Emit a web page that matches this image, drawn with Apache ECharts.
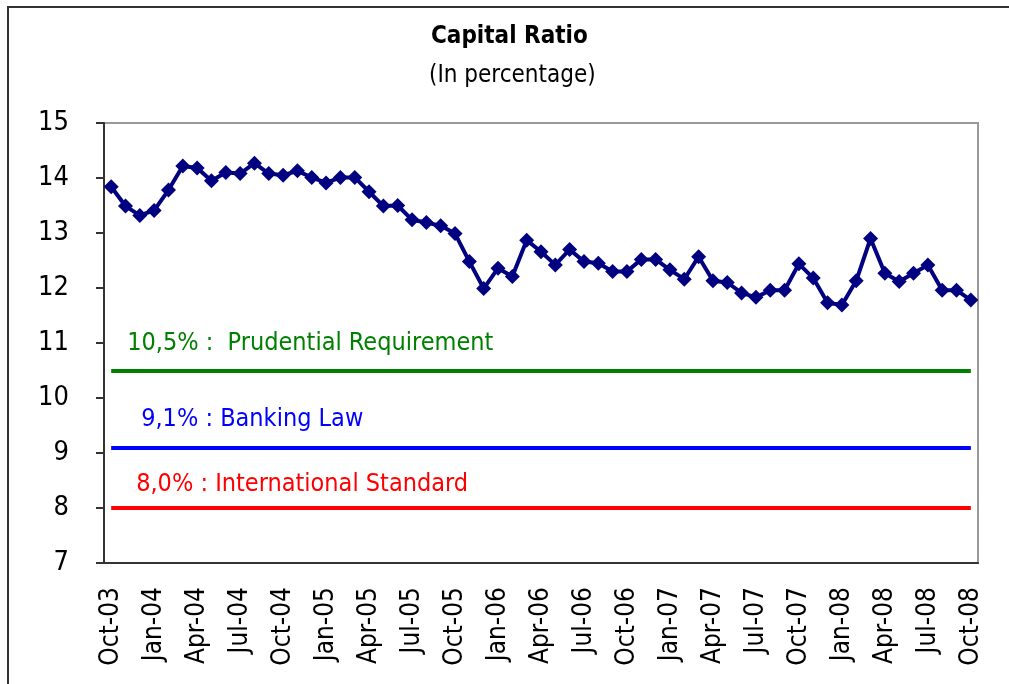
<!DOCTYPE html>
<html>
<head>
<meta charset="utf-8">
<title>Capital Ratio</title>
<script src="https://cdn.jsdelivr.net/npm/echarts@6/dist/echarts.min.js"></script>
<style>
  html, body { margin: 0; padding: 0; background: #fff; }
  #chart { width: 1009px; height: 684px; }
</style>
</head>
<body>
<div id="chart"></div>
<script>
  // monthly points, Oct-03 .. Oct-08
  var months = [
    'Oct-03', 'Nov-03', 'Dec-03',
    'Jan-04', 'Feb-04', 'Mar-04', 'Apr-04', 'May-04', 'Jun-04', 'Jul-04', 'Aug-04', 'Sep-04', 'Oct-04', 'Nov-04', 'Dec-04',
    'Jan-05', 'Feb-05', 'Mar-05', 'Apr-05', 'May-05', 'Jun-05', 'Jul-05', 'Aug-05', 'Sep-05', 'Oct-05', 'Nov-05', 'Dec-05',
    'Jan-06', 'Feb-06', 'Mar-06', 'Apr-06', 'May-06', 'Jun-06', 'Jul-06', 'Aug-06', 'Sep-06', 'Oct-06', 'Nov-06', 'Dec-06',
    'Jan-07', 'Feb-07', 'Mar-07', 'Apr-07', 'May-07', 'Jun-07', 'Jul-07', 'Aug-07', 'Sep-07', 'Oct-07', 'Nov-07', 'Dec-07',
    'Jan-08', 'Feb-08', 'Mar-08', 'Apr-08', 'May-08', 'Jun-08', 'Jul-08', 'Aug-08', 'Sep-08', 'Oct-08'
  ]
  var capitalRatio = [
    13.84, 13.49, 13.32,
    13.41, 13.78, 14.22, 14.18, 13.95, 14.10, 14.08, 14.27, 14.08, 14.05, 14.13, 14.01,
    13.91, 14.01, 14.01, 13.75, 13.49, 13.50, 13.24, 13.19, 13.13, 12.99, 12.48, 11.99,
    12.36, 12.21, 12.87, 12.66, 12.42, 12.70, 12.48, 12.45, 12.30, 12.30, 12.52, 12.52,
    12.33, 12.16, 12.57, 12.13, 12.10, 11.91, 11.83, 11.96, 11.96, 12.44, 12.18, 11.73,
    11.69, 12.13, 12.90, 12.27, 12.12, 12.27, 12.42, 11.96, 11.96, 11.78
  ]
  var limitValues = [10.5, 9.1, 8.0]
  var limitLabels = ['10,5% :  Prudential Requirement', '9,1% : Banking Law', '8,0% : International Standard']
  var limitColors = ['#008000', '#0000ff', '#ff0000']
  var yTicks = [7, 8, 9, 10, 11, 12, 13, 14, 15]

  var font = "'Liberation Sans Narrow', 'Arial Narrow', 'DejaVu Sans Condensed', sans-serif"
  var first = months[0]
  var last = months[months.length - 1]
  // label offsets [right, up] from the start of each limit line
  var labelDist = [[16, 15], [30, 16], [25, 11]]

  var limitLines = limitValues.map(function (v, i) {
    return [
      {
        coord: [first, v],
        lineStyle: { color: limitColors[i], width: 4, type: 'solid' },
        label: {
          show: true,
          formatter: limitLabels[i],
          position: 'insideStartTop',
          distance: labelDist[i],
          color: limitColors[i],
          fontFamily: font,
          fontSize: 25
        }
      },
      { coord: [last, v] }
    ]
  })

  var chart = echarts.init(document.getElementById('chart'))
  chart.setOption({
    animation: false,
    textStyle: { fontFamily: font },
    title: [
      {
        text: 'Capital Ratio',
        left: 431,
        top: 25,
        padding: 0,
        textStyle: { fontFamily: font, fontSize: 24, fontWeight: 'bold', color: '#000' }
      },
      {
        text: '(In percentage)',
        left: 429,
        top: 64,
        padding: 0,
        textStyle: { fontFamily: font, fontSize: 24, fontWeight: 'normal', color: '#000' }
      }
    ],
    graphic: [
      {
        type: 'rect',
        shape: { x: 8, y: 7, width: 1100, height: 700 },
        style: { fill: 'none', stroke: '#333', lineWidth: 2 },
        silent: true
      }
    ],
    grid: {
      left: 104,
      top: 123,
      right: 31,
      bottom: 121,
      show: true,
      borderColor: '#999',
      borderWidth: 2,
      backgroundColor: '#fff'
    },
    xAxis: {
      type: 'category',
      data: months,
      boundaryGap: true,
      axisLine: { lineStyle: { color: '#333', width: 2 } },
      axisTick: { interval: 2, length: 8, lineStyle: { color: '#333', width: 2 } },
      axisLabel: {
        interval: 2,
        rotate: 90,
        margin: 24,
        color: '#000',
        fontFamily: font,
        fontSize: 26
      },
      splitLine: { show: false }
    },
    yAxis: {
      type: 'value',
      min: yTicks[0],
      max: yTicks[yTicks.length - 1],
      interval: 1,
      axisLine: { show: true, lineStyle: { color: '#333', width: 2 } },
      axisTick: { show: true, length: 8, lineStyle: { color: '#333', width: 2 } },
      axisLabel: {
        margin: 35,
        color: '#000',
        fontFamily: font,
        fontSize: 27
      },
      splitLine: { show: false }
    },
    series: [
      {
        name: 'Capital Ratio',
        type: 'line',
        data: capitalRatio,
        symbol: 'diamond',
        symbolSize: 15,
        showSymbol: true,
        showAllSymbol: true,
        itemStyle: { color: '#000080' },
        lineStyle: { color: '#000080', width: 4 },
        z: 5,
        markLine: {
          silent: true,
          symbol: 'none',
          animation: false,
          data: limitLines
        }
      }
    ]
  })
</script>
</body>
</html>
